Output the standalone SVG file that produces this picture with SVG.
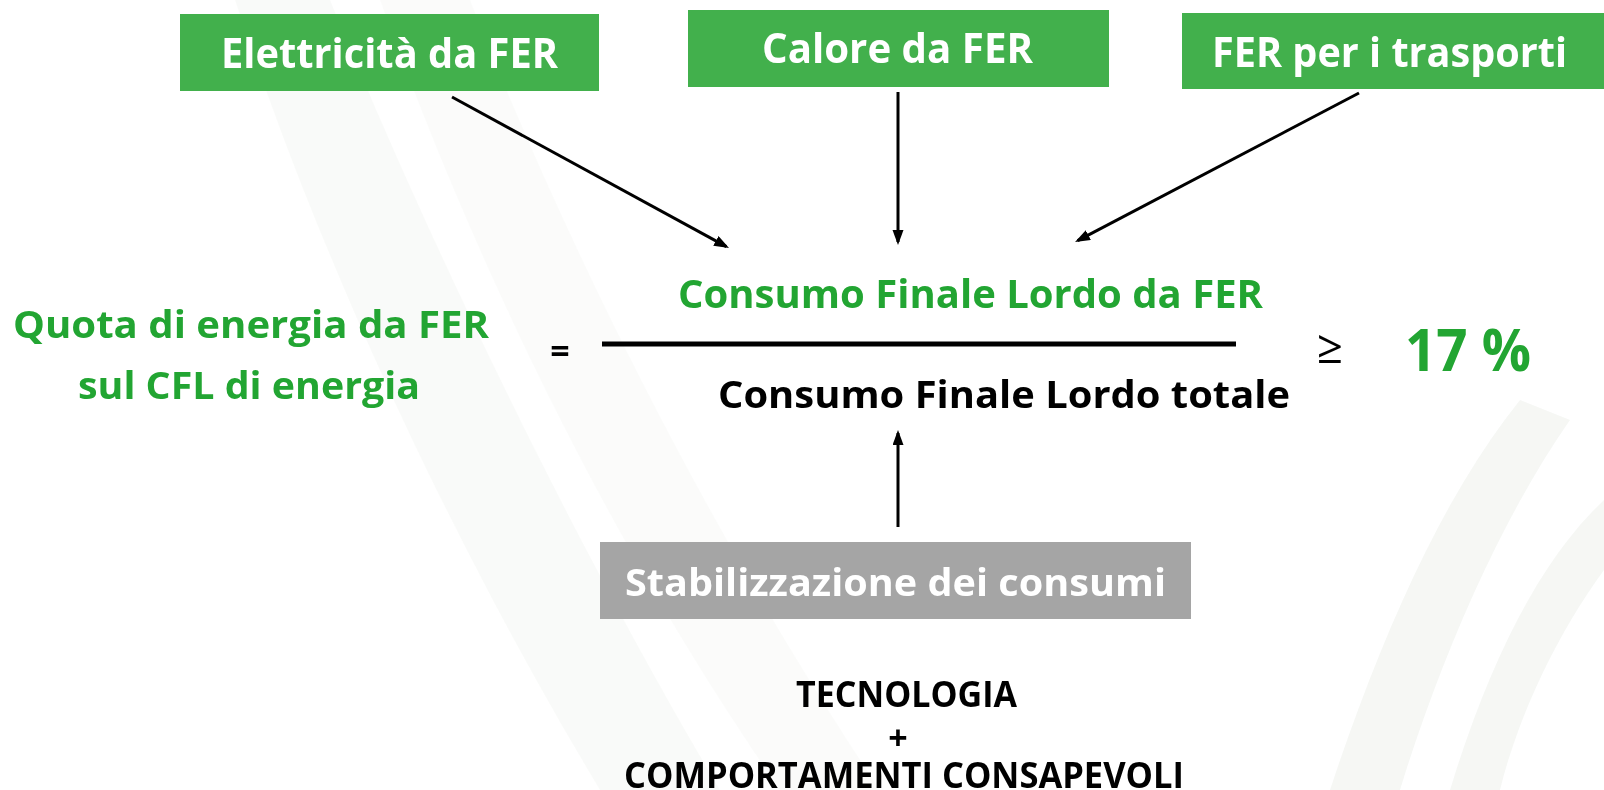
<svg xmlns="http://www.w3.org/2000/svg" width="1604" height="790" viewBox="0 0 1604 790">
  <defs>
    <style>
      .t { font-family: "Open Sans", "Liberation Sans", sans-serif; font-weight: 700; }
      .box-g { fill: #42B04C; }
      .box-x { fill: #A5A5A5; }
      .w { fill: #FFFFFF; }
      .g { fill: #22A532; }
      .k { fill: #000000; }
      .conn { stroke: #000000; stroke-width: 3; fill: none; marker-end: url(#ah); }
      .deco { fill: #EEF1EC; }
    </style>
    <marker id="ah" markerUnits="userSpaceOnUse" markerWidth="16" markerHeight="12" refX="12" refY="5.5" orient="auto">
      <path d="M0,0 L15,5.5 L0,11 z" fill="#000000"/>
    </marker>
  </defs>

  <rect x="0" y="0" width="1604" height="790" fill="#FFFFFF"/>

  <g id="background-decoration" opacity="0.55">
    <path class="deco" d="M235,0 L330,0 C420,220 560,520 720,790 L600,790 C450,540 320,260 235,0 Z" opacity="0.6"/>
    <path class="deco" d="M380,0 L470,0 C560,230 700,520 880,790 L780,790 C600,530 470,250 380,0 Z" opacity="0.4"/>
    <path class="deco" d="M1330,790 C1380,640 1440,500 1520,400 L1570,420 C1500,520 1440,660 1400,790 Z" fill="#EAF1E6"/>
    <path class="deco" d="M1450,790 C1490,660 1540,560 1604,500 L1604,570 C1560,630 1520,710 1500,790 Z" fill="#EAF1E6"/>
  </g>

  <g id="connectors">
    <line class="conn" x1="452" y1="97" x2="726.4" y2="246.6"/>
    <line class="conn" x1="898" y1="92" x2="898" y2="242"/>
    <line class="conn" x1="1359" y1="93" x2="1077.7" y2="240.6"/>
    <line class="conn" x1="898" y1="527" x2="898" y2="433"/>
  </g>

  <g id="node-elettricita">
    <rect class="box-g" x="180" y="14" width="419" height="77"/>
    <text class="t w" x="221" y="68" font-size="41" textLength="337" lengthAdjust="spacingAndGlyphs">Elettricità da FER</text>
  </g>

  <g id="node-calore">
    <rect class="box-g" x="688" y="10" width="421" height="77"/>
    <text class="t w" x="762" y="63" font-size="41" textLength="271" lengthAdjust="spacingAndGlyphs">Calore da FER</text>
  </g>

  <g id="node-trasporti">
    <rect class="box-g" x="1182" y="13" width="430" height="76"/>
    <text class="t w" x="1212" y="67" font-size="41" textLength="355" lengthAdjust="spacingAndGlyphs">FER per i trasporti</text>
  </g>

  <g id="node-quota">
    <text class="t g" x="13" y="338" font-size="37" textLength="476" lengthAdjust="spacingAndGlyphs">Quota di energia da FER</text>
    <text class="t g" x="78" y="399" font-size="37" textLength="342" lengthAdjust="spacingAndGlyphs">sul CFL di energia</text>
  </g>

  <g id="node-equals">
    <text class="t k" x="560" y="363" font-size="34" text-anchor="middle">=</text>
  </g>

  <g id="node-fraction">
    <text class="t g" x="678" y="308" font-size="39" textLength="585" lengthAdjust="spacingAndGlyphs">Consumo Finale Lordo da FER</text>
    <rect x="602" y="341.5" width="634" height="5" fill="#000000"/>
    <text class="t k" x="718" y="408" font-size="37" textLength="572" lengthAdjust="spacingAndGlyphs">Consumo Finale Lordo totale</text>
  </g>

  <g id="node-geq">
    <text class="k" x="1330" y="363" font-size="46" font-family="Open Sans, Liberation Sans, sans-serif" text-anchor="middle">≥</text>
  </g>

  <g id="node-percent">
    <text class="t g" x="1405" y="371" font-size="59" textLength="126" lengthAdjust="spacingAndGlyphs">17 %</text>
  </g>

  <g id="node-stabilizzazione">
    <rect class="box-x" x="600" y="542" width="591" height="77"/>
    <text class="t w" x="625" y="596" font-size="38" textLength="541" lengthAdjust="spacingAndGlyphs">Stabilizzazione dei consumi</text>
  </g>

  <g id="node-tecnologia">
    <text class="t k" x="796" y="707" font-size="36" textLength="221" lengthAdjust="spacingAndGlyphs">TECNOLOGIA</text>
    <text class="t k" x="898" y="750" font-size="34" text-anchor="middle">+</text>
    <text class="t k" x="624" y="788" font-size="36" textLength="560" lengthAdjust="spacingAndGlyphs">COMPORTAMENTI CONSAPEVOLI</text>
  </g>
</svg>
